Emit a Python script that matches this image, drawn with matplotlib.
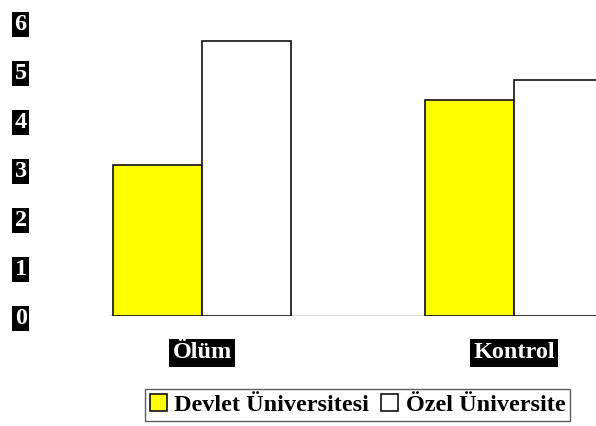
import matplotlib
matplotlib.use("Agg")
import matplotlib.pyplot as plt
import numpy as np

categories = ["Ölüm", "Kontrol"]
devlet = [3.09, 4.41]
ozel = [5.62, 4.82]
series_names = ["Devlet Üniversitesi", "Özel Üniversite"]
yticks = [0, 1, 2, 3, 4, 5, 6]

W, H = 596, 426
fig = plt.figure(figsize=(W / 100, H / 100), dpi=100)
left_px, right_px, bottom_px, top_px = 110, 596, 316, 22
ax = fig.add_axes([left_px / W, 1 - bottom_px / H, (right_px - left_px) / W, (bottom_px - top_px) / H])

x = np.arange(len(categories))
w = 0.285
ax.bar(x - w / 2, devlet, w, color="#ffff00", edgecolor="#111111", linewidth=1.2, label=series_names[0], zorder=3)
ax.bar(x + w / 2, ozel, w, color="white", edgecolor="#111111", linewidth=1.2, label=series_names[1], zorder=3)
ax.axhline(0, color="#dddddd", linewidth=2, zorder=2)

ax.set_xlim((left_px - 202) / 312, (right_px - 202) / 312)
ax.set_ylim(0, 6)
for s in ax.spines.values():
    s.set_visible(False)

font = dict(family="Liberation Serif", weight="bold", size=17.5)
box = dict(facecolor="black", edgecolor="none", pad=2.2)

ax.set_yticks(yticks)
ax.set_yticklabels([str(v) for v in yticks], color="white", **font)
ax.tick_params(axis="y", length=0, pad=60)
for lab in ax.get_yticklabels():
    lab.set_bbox(dict(facecolor="black", edgecolor="none", pad=1.5))

ax.set_xticks(x)
ax.set_xticklabels(categories, color="white", **font)
ax.tick_params(axis="x", length=0, pad=19)
for lab in ax.get_xticklabels():
    lab.set_bbox(box)

leg = fig.legend(loc="center", bbox_to_anchor=(357.5 / W, 1 - 405 / H), ncol=2,
                 prop=dict(family="Liberation Serif", weight="bold", size=17.5),
                 frameon=True, fancybox=False, edgecolor="#333333",
                 handlelength=0.7, handleheight=0.7, handletextpad=0.3,
                 columnspacing=0.5, borderpad=0.2, borderaxespad=0)
leg.get_frame().set_linewidth(1.0)

fig.savefig("out.png", dpi=100)
